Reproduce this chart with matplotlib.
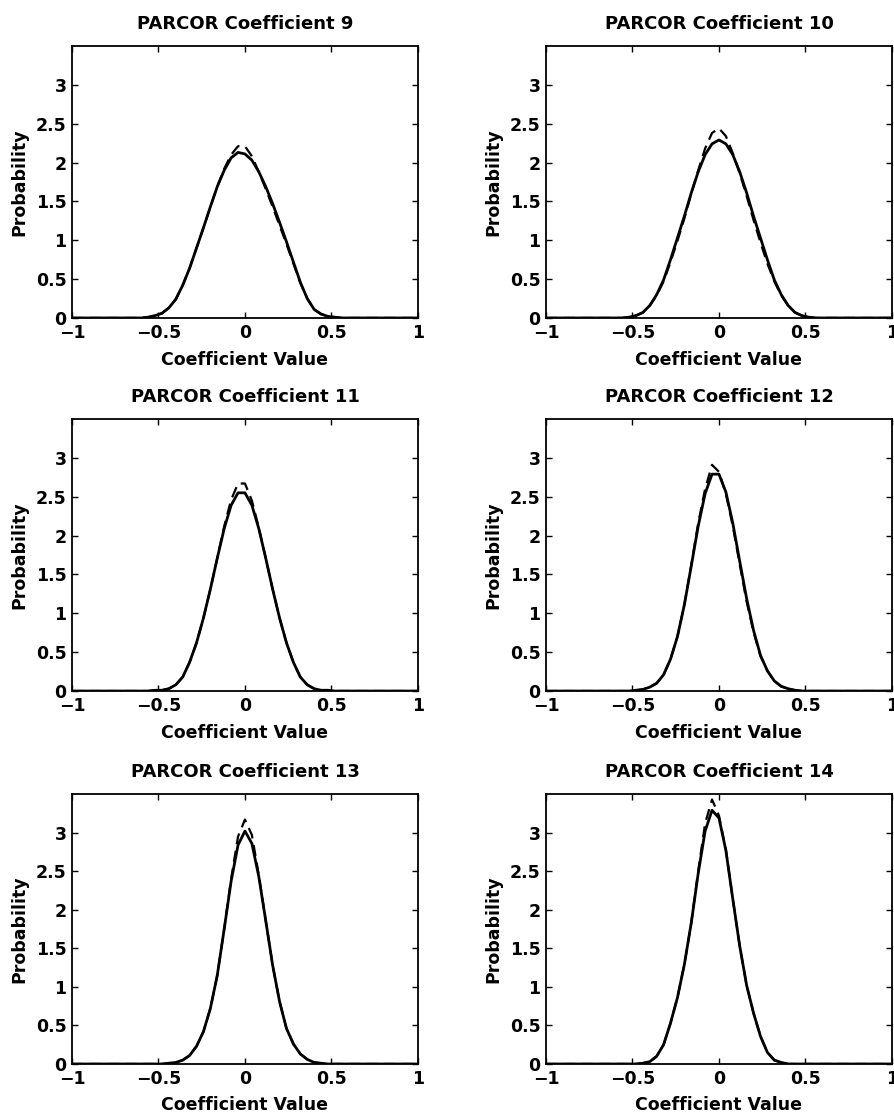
import numpy as np
import matplotlib
matplotlib.use('Agg')
import matplotlib.pyplot as plt

plt.rcParams['font.family'] = 'DejaVu Sans'
plt.rcParams['font.weight'] = 'bold'
plt.rcParams['axes.titleweight'] = 'bold'
plt.rcParams['axes.labelweight'] = 'bold'

# pontos em x onde as densidades foram lidas
x = [-1.0, -0.60, -0.56, -0.52, -0.48, -0.44, -0.40, -0.36, -0.32, -0.28, -0.24,
     -0.20, -0.16, -0.12, -0.08, -0.04, 0.00, 0.04, 0.08, 0.12, 0.16, 0.20,
     0.24, 0.28, 0.32, 0.36, 0.40, 0.44, 0.48, 0.52, 0.56, 0.60, 1.0]

# densidade estimada (linha cheia) e gaussiana ajustada (tracejada)
k9_est = [0, 0.00, 0.01, 0.03, 0.06, 0.13, 0.24, 0.42, 0.64, 0.90, 1.16,
          1.43, 1.69, 1.90, 2.06, 2.13, 2.11, 2.03, 1.88, 1.69, 1.47, 1.23,
          0.98, 0.72, 0.46, 0.25, 0.11, 0.05, 0.02, 0.01, 0.00, 0.00, 0]
k9_gauss = [0, 0.00, 0.01, 0.03, 0.06, 0.13, 0.24, 0.42, 0.64, 0.90, 1.16,
            1.43, 1.69, 1.92, 2.10, 2.21, 2.21, 2.08, 1.88, 1.66, 1.43, 1.19,
            0.95, 0.70, 0.45, 0.25, 0.11, 0.05, 0.02, 0.01, 0.00, 0.00, 0]

k10_est = [0, 0.00, 0.00, 0.01, 0.03, 0.07, 0.16, 0.30, 0.49, 0.75, 1.03,
           1.31, 1.61, 1.88, 2.10, 2.24, 2.29, 2.24, 2.10, 1.88, 1.61, 1.31,
           1.03, 0.75, 0.49, 0.30, 0.16, 0.07, 0.03, 0.01, 0.00, 0.00, 0]
k10_gauss = [0, 0.00, 0.00, 0.01, 0.03, 0.07, 0.16, 0.29, 0.47, 0.72, 0.99,
             1.28, 1.60, 1.90, 2.18, 2.38, 2.44, 2.34, 2.12, 1.86, 1.57, 1.26,
             0.97, 0.70, 0.47, 0.29, 0.16, 0.07, 0.03, 0.01, 0.00, 0.00, 0]

k11_est = [0, 0.00, 0.00, 0.01, 0.01, 0.03, 0.08, 0.18, 0.37, 0.62, 0.94,
           1.31, 1.71, 2.09, 2.39, 2.55, 2.55, 2.39, 2.09, 1.71, 1.31, 0.94,
           0.62, 0.37, 0.18, 0.08, 0.03, 0.01, 0.01, 0.00, 0.00, 0.00, 0]
k11_gauss = [0, 0.00, 0.00, 0.01, 0.01, 0.03, 0.08, 0.18, 0.37, 0.62, 0.94,
             1.31, 1.71, 2.12, 2.46, 2.67, 2.67, 2.45, 2.10, 1.71, 1.31, 0.94,
             0.62, 0.37, 0.18, 0.08, 0.03, 0.01, 0.01, 0.00, 0.00, 0.00, 0]

k12_est = [0, 0.00, 0.00, 0.00, 0.01, 0.02, 0.05, 0.10, 0.21, 0.41, 0.70,
           1.11, 1.61, 2.12, 2.54, 2.79, 2.79, 2.56, 2.16, 1.67, 1.19, 0.78,
           0.46, 0.26, 0.13, 0.06, 0.03, 0.01, 0.00, 0.00, 0.00, 0.00, 0]
k12_gauss = [0, 0.00, 0.00, 0.00, 0.01, 0.02, 0.05, 0.10, 0.21, 0.41, 0.70,
             1.11, 1.62, 2.16, 2.60, 2.91, 2.82, 2.54, 2.12, 1.63, 1.15, 0.76,
             0.45, 0.26, 0.13, 0.06, 0.03, 0.01, 0.00, 0.00, 0.00, 0.00, 0]

k13_est = [0, 0.00, 0.00, 0.00, 0.00, 0.01, 0.02, 0.05, 0.11, 0.23, 0.42,
           0.72, 1.15, 1.75, 2.37, 2.84, 3.02, 2.86, 2.43, 1.86, 1.28, 0.81,
           0.46, 0.26, 0.13, 0.06, 0.02, 0.01, 0.00, 0.00, 0.00, 0.00, 0]
k13_gauss = [0, 0.00, 0.00, 0.00, 0.00, 0.01, 0.02, 0.05, 0.11, 0.23, 0.42,
             0.72, 1.15, 1.75, 2.40, 2.95, 3.17, 2.97, 2.45, 1.86, 1.28, 0.81,
             0.46, 0.26, 0.13, 0.06, 0.02, 0.01, 0.00, 0.00, 0.00, 0.00, 0]

k14_est = [0, 0.00, 0.00, 0.00, 0.00, 0.01, 0.03, 0.10, 0.25, 0.53, 0.86,
           1.29, 1.83, 2.47, 3.02, 3.29, 3.19, 2.77, 2.14, 1.53, 1.02, 0.66,
           0.36, 0.15, 0.05, 0.02, 0.00, 0.00, 0.00, 0.00, 0.00, 0.00, 0]
k14_gauss = [0, 0.00, 0.00, 0.00, 0.00, 0.01, 0.03, 0.10, 0.25, 0.53, 0.86,
             1.29, 1.83, 2.50, 3.12, 3.43, 3.22, 2.78, 2.14, 1.53, 1.02, 0.66,
             0.36, 0.15, 0.05, 0.02, 0.00, 0.00, 0.00, 0.00, 0.00, 0.00, 0]

coeficientes = [9, 10, 11, 12, 13, 14]
estimadas = [k9_est, k10_est, k11_est, k12_est, k13_est, k14_est]
gaussianas = [k9_gauss, k10_gauss, k11_gauss, k12_gauss, k13_gauss, k14_gauss]

xticks = [-1, -0.5, 0, 0.5, 1]
xlabels = ['\u22121', '\u22120.5', '0', '0.5', '1']
yticks = [0, 0.5, 1, 1.5, 2, 2.5, 3]
ylabels = ['0', '0.5', '1', '1.5', '2', '2.5', '3']

# [esquerda, baixo, largura, altura] de cada grafico
posicoes = [
    [0.0804, 0.7161, 0.3866, 0.2429], [0.6100, 0.7161, 0.3866, 0.2429],
    [0.0804, 0.3830, 0.3866, 0.2429], [0.6100, 0.3830, 0.3866, 0.2429],
    [0.0804, 0.0500, 0.3866, 0.2410], [0.6100, 0.0500, 0.3866, 0.2410],
]


def desenha(ax, est, gauss, num):
    '''
    Desenha a densidade de um coeficiente PARCOR.

    Args:
        ax: eixo onde o grafico sera desenhado
        est ([float]): densidade estimada (linha cheia)
        gauss ([float]): gaussiana ajustada (tracejada)
        num (int): numero do coeficiente
    '''
    ax.plot(x, gauss, color='black', linewidth=1.6, linestyle=(0, (5, 3)))
    ax.plot(x, est, color='black', linewidth=2.0, solid_joinstyle='round')
    ax.set_xlim(-1, 1)
    ax.set_ylim(0, 3.5)
    ax.set_xticks(xticks)
    ax.set_xticklabels(xlabels)
    ax.set_yticks(yticks)
    ax.set_yticklabels(ylabels)
    ax.tick_params(direction='in', top=True, right=True, length=4, width=1,
                   labelsize=12.5, pad=4)
    for s in ax.spines.values():
        s.set_linewidth(1.3)
    ax.set_title('PARCOR Coefficient ' + str(num), fontsize=13, pad=12)
    ax.set_xlabel('Coefficient Value', fontsize=12.5)
    ax.set_ylabel('Probability', fontsize=12.5)
    ax.xaxis.set_label_coords(0.5, -0.12)
    ax.yaxis.set_label_coords(-0.125, 0.5)


fig = plt.figure(figsize=(8.95, 11.2), dpi=100)

for i in range(len(coeficientes)):
    ax = fig.add_axes(posicoes[i])
    desenha(ax, estimadas[i], gaussianas[i], coeficientes[i])

fig.savefig('out.png', dpi=100)
